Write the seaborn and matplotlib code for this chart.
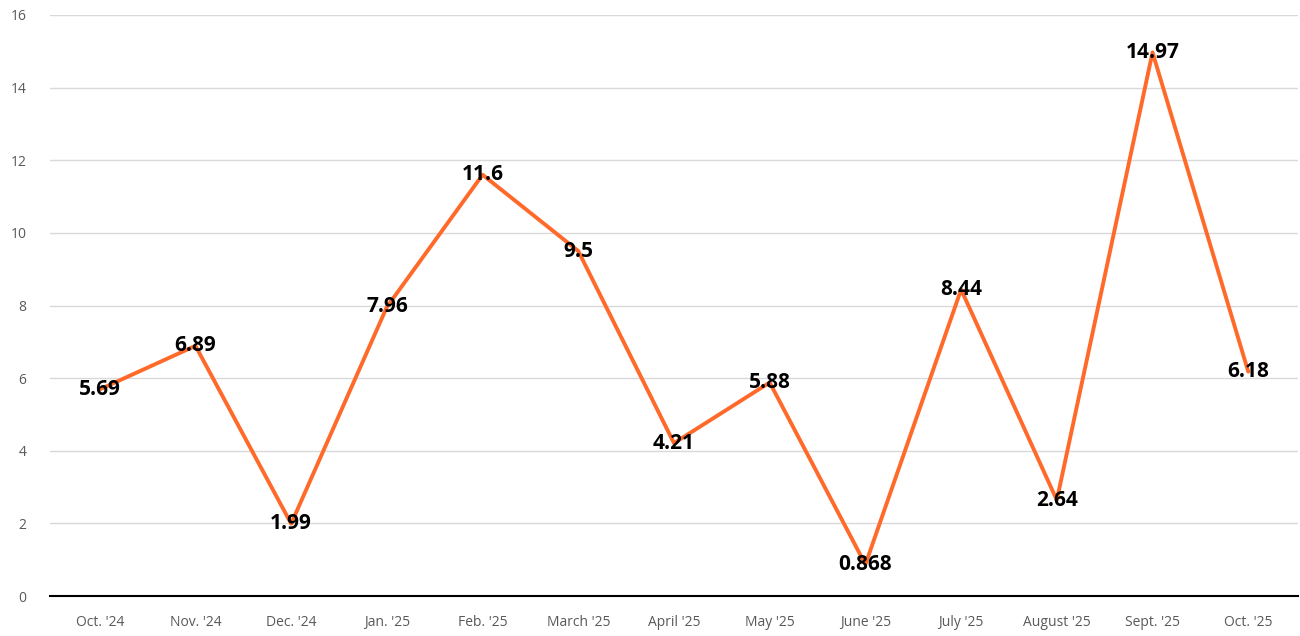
import numpy as np
import pandas as pd
import seaborn as sns
import matplotlib.pyplot as plt

# monthly values
months = ["Oct. '24", "Nov. '24", "Dec. '24", "Jan. '25", "Feb. '25", "March '25",
          "April '25", "May '25", "June '25", "July '25", "August '25", "Sept. '25", "Oct. '25"]
values = [5.69, 6.89, 1.99, 7.96, 11.6, 9.5, 4.21, 5.88, 0.868, 8.44, 2.64, 14.97, 6.18]
labels = ["5.69", "6.89", "1.99", "7.96", "11.6", "9.5", "4.21", "5.88", "0.868",
          "8.44", "2.64", "14.97", "6.18"]

df = pd.DataFrame({"pos": np.arange(len(months)), "value": values})

sns.set_style("white")
plt.rcParams['font.family'] = ['Open Sans', 'DejaVu Sans']

fig = plt.figure(figsize=(13, 6.36), dpi=100)
ax = fig.add_axes([50 / 1300, 40 / 636, 1248 / 1300, 581 / 636])

sns.lineplot(data=df, x="pos", y="value", color="#FF6A2A", linewidth=2.8, ax=ax)

for i, (v, t) in enumerate(zip(values, labels)):
    ax.text(i, v, t, ha="center", va="center", fontsize=15, fontweight="bold",
            color="black")

ax.set_xlim(-0.52, 12.52)
ax.set_ylim(0, 16)
ax.set_yticks(range(0, 17, 2))
ax.set_xticks(df["pos"])
ax.set_xticklabels(months)
ax.yaxis.grid(True, color="#D9D9D9", linewidth=1)
ax.set_axisbelow(True)
for s in ["top", "right", "left"]:
    ax.spines[s].set_visible(False)
ax.spines["bottom"].set_color("black")
ax.spines["bottom"].set_linewidth(1.5)
ax.tick_params(axis="both", length=0, colors="#595959", labelsize=10)
ax.tick_params(axis="x", pad=14)
ax.tick_params(axis="y", pad=17)
ax.set_xlabel("")
ax.set_ylabel("")

fig.savefig("out.png", dpi=100)
